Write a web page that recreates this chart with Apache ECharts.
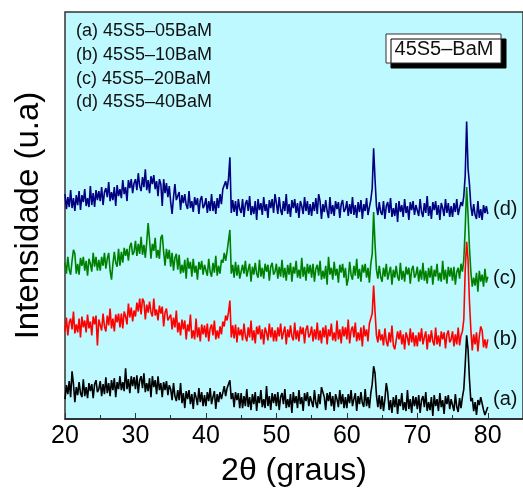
<!DOCTYPE html>
<html><head><meta charset="utf-8">
<script src="https://cdn.jsdelivr.net/npm/echarts@6/dist/echarts.min.js"></script>
<style>html,body{margin:0;padding:0;background:#fff}#c{width:523px;height:492px}</style>
</head><body><div id="c"></div>
<script>
// 2θ sampling grid: 20.0 .. 80.0 in 0.2° steps (301 points)
const thetaStart = 20, thetaStep = 0.2;
const xTicks = [20, 30, 40, 50, 60, 70, 80];
const sampleLabels = ['(a) 45S5\u201305BaM', '(b) 45S5\u201310BaM', '(c) 45S5\u201320BaM', '(d) 45S5\u201340BaM'];
const curveTags = ['(a)', '(b)', '(c)', '(d)'];
const curveColors = ['#000000', '#ff0000', '#008000', '#000080'];
const boxTitle = '45S5\u2013BaM';

// Intensities (a.u., vertically offset as in the figure)
const intensA = [
20,34,25,38,22,48,35,17,32,24,37,26,22,40,23,32,21,36,28,35,21,35,39,27,30,
38,23,35,25,42,26,36,23,39,29,41,22,37,30,43,29,37,28,51,30,40,26,43,33,42,
30,44,26,39,43,31,46,27,36,28,41,22,43,32,39,25,43,29,36,22,37,29,38,24,34,
30,19,36,23,18,29,19,36,16,26,11,28,20,29,15,25,10,27,22,14,31,17,27,13,24,
13,27,18,31,15,22,28,10,25,17,27,20,18,33,23,31,30,39,20,26,12,27,19,26,11,
26,11,23,13,30,12,22,9,25,15,27,8,23,16,29,12,20,11,33,13,23,9,26,16,25,
13,27,9,22,26,15,30,11,20,12,25,6,27,16,23,11,29,15,22,8,26,18,27,13,23,
23,12,29,16,11,25,15,32,33,22,9,26,18,27,13,23,8,25,20,12,29,15,25,11,22,
11,25,16,29,13,20,26,8,23,15,27,16,12,30,13,22,11,26,35,53,46,24,12,24,10,
23,8,20,36,27,9,19,6,22,12,24,5,20,13,26,9,17,8,29,10,20,6,23,13,22,
10,24,6,19,23,12,27,8,17,9,22,3,24,13,20,8,26,12,19,5,23,15,24,10,20,
19,8,25,12,7,21,11,22,30,55,84,70,40,18,21,8,17,4,19,14,22,22,9,4,8,
12];
const intensB = [
88,102,84,97,101,90,108,86,95,87,101,82,103,92,99,87,105,91,98,84,103,95,104,74,100,
100,89,106,93,88,104,94,111,91,101,88,105,97,106,92,106,91,108,103,95,116,102,112,98,109,
103,117,108,121,105,121,118,100,115,107,118,107,103,121,104,110,99,114,106,113,93,107,111,99,102,
105,90,102,92,109,87,97,84,100,90,99,80,95,88,105,81,89,80,101,82,92,78,95,85,94,
82,96,78,91,95,84,99,80,89,81,93,85,98,93,104,99,107,119,82,94,81,95,77,92,84,
90,79,96,83,78,92,82,99,79,89,76,93,85,94,80,90,75,92,87,79,96,82,92,78,89,
78,92,83,96,80,87,93,75,90,82,94,83,79,97,80,89,78,93,85,92,76,90,94,82,85,
93,78,90,80,97,79,89,76,92,82,94,75,90,83,96,79,87,78,99,80,90,76,93,83,92,
80,100,76,89,93,82,97,78,87,79,92,73,94,83,90,78,96,94,106,134,108,84,77,90,79,
85,74,91,78,73,87,77,94,74,70,71,88,80,89,75,85,70,87,82,74,91,77,87,73,84,
73,87,78,91,75,82,88,70,85,77,89,78,74,92,75,84,73,88,80,87,71,85,89,77,80,
88,73,85,75,92,74,84,88,100,150,178,160,118,90,69,85,75,87,68,83,93,89,72,80,71,
80];
const intensC = [
157,146,163,150,145,159,170,166,146,156,145,162,154,163,149,159,144,161,156,148,167,153,163,149,160,
149,163,154,167,151,161,167,149,140,156,168,157,153,171,154,168,157,172,164,171,159,173,177,165,168,
179,164,176,166,183,165,175,162,178,197,180,161,176,169,182,162,170,161,182,185,168,154,171,161,170,
153,167,149,162,166,150,165,146,155,147,160,141,162,151,158,143,161,147,154,140,158,150,159,145,155,
155,144,161,148,143,157,147,164,144,154,146,160,157,167,159,168,166,190,146,155,142,158,144,155,141,
141,155,146,159,143,150,156,138,153,145,157,146,142,160,143,152,141,156,148,155,139,153,157,145,148,
156,141,153,143,160,142,152,139,155,145,157,138,153,146,159,142,150,141,162,143,153,139,156,146,155,
142,156,138,151,155,144,159,140,149,141,154,135,163,145,152,140,158,144,151,137,155,147,156,142,152,
134,141,158,145,140,154,144,161,141,151,138,155,147,156,142,152,137,156,166,208,176,150,141,154,143,
138,152,143,156,140,147,153,135,150,142,154,143,139,157,140,149,138,153,145,152,136,150,154,142,145,
153,138,150,140,157,139,149,136,152,142,154,135,150,143,156,139,147,138,159,140,150,136,153,143,152,
139,153,135,148,152,141,156,148,160,192,233,205,172,148,133,142,134,147,128,149,138,145,133,151,137,
143];
const intensD = [
226,211,223,213,230,212,222,209,225,215,229,210,225,218,231,214,222,213,234,215,227,213,230,220,229,
219,233,215,228,232,223,238,219,228,220,233,214,235,224,231,222,240,226,233,219,240,232,241,227,237,
241,230,247,234,229,243,233,251,230,240,227,244,236,245,231,239,224,241,236,214,241,227,237,223,234,
218,206,223,236,220,222,228,210,225,217,226,215,211,229,212,219,208,223,215,222,206,220,224,212,215,
222,207,219,209,226,209,219,206,222,212,226,216,231,230,239,231,241,263,207,220,208,219,204,221,211,
207,221,203,216,220,209,224,205,214,206,219,200,221,210,217,205,223,209,216,202,220,212,221,207,226,
217,206,223,210,205,219,209,226,206,216,203,220,212,221,207,217,202,219,214,206,223,209,219,205,216,
204,218,209,222,206,226,219,201,216,208,220,209,202,223,206,215,204,219,211,218,202,216,220,208,211,
219,204,216,206,223,205,215,202,218,208,220,201,216,209,222,205,213,220,232,272,241,214,205,218,208,
205,219,201,214,218,207,222,203,212,204,217,198,219,208,215,203,221,207,214,200,218,210,219,205,215,
215,204,221,208,203,217,207,224,204,214,201,218,210,219,205,215,200,217,212,204,221,207,217,203,214,
203,217,208,221,205,212,218,214,224,245,299,252,236,214,204,216,205,201,219,202,211,200,215,207,214,
206];

const allIntens = [intensA, intensB, intensC, intensD];
const twoTheta = intensA.map((_, i) => +(thetaStart + i * thetaStep).toFixed(1));

const FONT = '"Liberation Sans", Arial, sans-serif';
const chart = echarts.init(document.getElementById('c'), null, {renderer: 'canvas'});

const series = allIntens.map((arr, k) => ({
  name: sampleLabels[k],
  type: 'line',
  showSymbol: false,
  symbol: 'none',
  animation: false,
  lineStyle: {color: curveColors[k], width: 1.6},
  itemStyle: {color: curveColors[k]},
  data: arr.map((v, i) => [twoTheta[i], v])
}));

const tagY = [400, 340, 279, 210];
const graphic = [];
sampleLabels.forEach((t, i) => {
  graphic.push({type: 'text', left: 76, top: 32 + i * 23.8 - 10,
    style: {text: t, fontSize: 18, fontFamily: FONT, fill: '#111'}});
});
curveTags.forEach((t, i) => {
  graphic.push({type: 'text', left: 493, top: tagY[i] - 11,
    style: {text: t, fontSize: 20, fontFamily: FONT, fill: '#111'}});
});
graphic.push({type: 'rect', shape: {x: 386, y: 34, width: 115, height: 29},
  style: {fill: '#ffffff', stroke: '#333', lineWidth: 1, shadowColor: '#000', shadowOffsetX: 5, shadowOffsetY: 5, shadowBlur: 0}});
graphic.push({type: 'text', x: 444, y: 49, style: {text: boxTitle, fontSize: 20, fontFamily: FONT, fill: '#111', align: 'center', verticalAlign: 'middle'}});

chart.setOption({
  backgroundColor: '#ffffff',
  animation: false,
  grid: {left: 65, top: 12, width: 459, height: 409, show: true,
    backgroundColor: '#bdf9ff', borderColor: '#333', borderWidth: 1.5, containLabel: false},
  xAxis: [{
    type: 'value', min: 20, max: 85, interval: 10,
    name: '2\u03b8 (graus)', nameLocation: 'middle', nameGap: 36,
    nameTextStyle: {fontSize: 32, fontFamily: FONT, color: '#000'},
    axisLine: {show: true, lineStyle: {color: '#222', width: 1.5}},
    axisTick: {show: true, inside: true, length: 6, lineStyle: {color: '#333', width: 1}},
    axisLabel: {fontSize: 25, fontFamily: FONT, color: '#000', margin: 5, showMaxLabel: false,
      formatter: v => (xTicks.indexOf(v) >= 0 ? String(v) : '')},
    splitLine: {show: false}
  }, {
    type: 'value', min: 20, max: 85, interval: 5, position: 'bottom',
    axisLine: {show: false},
    axisTick: {show: true, inside: true, length: 4, lineStyle: {color: '#333', width: 1}},
    axisLabel: {show: false},
    splitLine: {show: false}
  }],
  yAxis: {
    type: 'value', min: 0, max: 409,
    name: 'Intensidade (u.a)', nameLocation: 'middle', nameGap: 20,
    nameTextStyle: {fontSize: 33, fontFamily: FONT, color: '#000'},
    axisLine: {show: false}, axisTick: {show: false}, axisLabel: {show: false},
    splitLine: {show: false}
  },
  series: series,
  graphic: graphic
});
</script></body></html>
